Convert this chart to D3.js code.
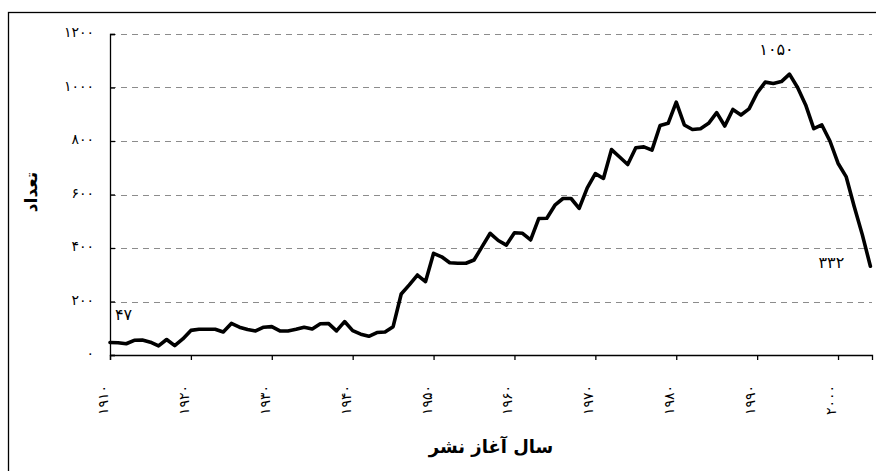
<!DOCTYPE html>
<html><head><meta charset="utf-8">
<script src="https://cdn.jsdelivr.net/npm/d3@7"></script>
<style>
html,body{margin:0;padding:0;background:#fff;}
svg{display:block;}
</style></head>
<body>
<script>
// ---- data ----
const firstYear = 1910;
const counts = [
  47, 46, 42, 55, 56, 48, 34, 58, 35, 60,        // 1910-1919
  92, 96, 96, 96, 86, 118, 104, 95, 90, 104,     // 1920-1929
  106, 90, 90, 96, 104, 97, 117, 118, 90, 125,   // 1930-1939
  91, 78, 70, 84, 86, 106, 228, 262, 299, 274,   // 1940-1949
  380, 367, 345, 343, 343, 355, 405, 455, 428, 411, // 1950-1959
  457, 455, 430, 510, 511, 560, 585, 585, 548, 625, // 1960-1969
  678, 660, 768, 740, 712, 775, 778, 766, 858, 866, // 1970-1979
  945, 860, 843, 846, 866, 906, 856, 918, 897, 920, // 1980-1989
  980, 1020, 1015, 1022, 1050, 1000, 935, 846, 860, 800, // 1990-1999
  717, 667, 555, 450, 332                         // 2000-2004
];
const years = counts.map((_, i) => firstYear + i);
const xTickValues = [1910, 1920, 1930, 1940, 1950, 1960, 1970, 1980, 1990, 2000];
const xTickLabels = ["۱۹۱۰", "۱۹۲۰", "۱۹۳۰", "۱۹۴۰", "۱۹۵۰", "۱۹۶۰", "۱۹۷۰", "۱۹۸۰", "۱۹۹۰", "۲۰۰۰"];
const yTickValues = [0, 200, 400, 600, 800, 1000, 1200];
const yTickLabels = ["۰", "۲۰۰", "۴۰۰", "۶۰۰", "۸۰۰", "۱۰۰۰", "۱۲۰۰"];
const xTitle = "سال آغاز نشر";
const yTitle = "تعداد";

const toFa = n => String(n).replace(/\d/g, d => "۰۱۲۳۴۵۶۷۸۹"[+d]);

// ---- layout ----
const W = 876, H = 471;
const m = {left: 110, right: 4, top: 34, bottom: 116};
const svg = d3.select("body").append("svg").attr("width", W).attr("height", H);
const FONT = "'DejaVu Sans', sans-serif";

// outer border
svg.append("rect").attr("x", 8.5).attr("y", 12.5).attr("width", W).attr("height", H)
  .attr("fill", "none").attr("stroke", "#000").attr("stroke-width", 1.3);

const x = d3.scaleLinear().domain([1910, 2004.2]).range([m.left, W - m.right]);
const y = d3.scaleLinear().domain([0, 1200]).range([H - m.bottom, m.top]);

// gridlines
svg.append("g").selectAll("line").data(yTickValues.filter(v => v > 0)).join("line")
  .attr("x1", m.left).attr("x2", W - m.right)
  .attr("y1", d => Math.round(y(d)) + 0.5).attr("y2", d => Math.round(y(d)) + 0.5)
  .attr("stroke", "#8c8c8c").attr("stroke-width", 1).attr("stroke-dasharray", "6,5");

// y axis
const yAxis = d3.axisRight(y).tickValues(yTickValues).tickSize(5)
  .tickFormat((d, i) => "");
const gy = svg.append("g").attr("transform", `translate(${m.left},0)`).call(yAxis);
gy.select(".domain").attr("stroke", "#000").attr("stroke-width", 1.3);
gy.selectAll(".tick line").attr("stroke", "#000").attr("stroke-width", 1.3);

svg.append("g").selectAll("text").data(yTickValues).join("text")
  .attr("x", m.left - 16).attr("y", d => y(d) + 3)
  .attr("text-anchor", "end").attr("font-family", FONT).attr("font-size", 14)
  .attr("letter-spacing", "1.5px")
  .text((d, i) => yTickLabels[i]);

// x axis
const xAxis = d3.axisBottom(x).tickValues(xTickValues).tickSize(5).tickFormat(() => "");
const gx = svg.append("g").attr("transform", `translate(0,${H - m.bottom})`).call(xAxis);
gx.select(".domain").attr("stroke", "#000").attr("stroke-width", 1.3);
gx.selectAll(".tick line").attr("stroke", "#000").attr("stroke-width", 1.3);

svg.append("g").selectAll("text").data(xTickValues).join("text")
  .attr("transform", d => `translate(${x(d) - 2},400) rotate(-90)`)
  .attr("text-anchor", "middle").attr("font-family", FONT).attr("font-size", 14)
  .attr("letter-spacing", "0.5px")
  .text((d, i) => xTickLabels[i]);

// line
const line = d3.line().x((d, i) => x(years[i])).y(d => y(d));
svg.append("path").datum(counts).attr("d", line)
  .attr("fill", "none").attr("stroke", "#000").attr("stroke-width", 3.6)
  .attr("stroke-linejoin", "round").attr("stroke-linecap", "round");

// annotations
const iMax = d3.maxIndex(counts);
const iLast = counts.length - 1;
const ann = svg.append("g").attr("font-family", FONT).attr("font-size", 16);
ann.append("text").attr("x", x(years[0]) + 5).attr("y", y(counts[0]) - 22)
  .text(toFa(counts[0]));
ann.append("text").attr("x", x(years[iMax]) - 13).attr("y", y(counts[iMax]) - 19)
  .attr("text-anchor", "middle").attr("letter-spacing", "1.5px").text(toFa(counts[iMax]));
ann.append("text").attr("x", x(years[iLast]) - 39).attr("y", y(counts[iLast]) + 2)
  .attr("text-anchor", "middle").text(toFa(counts[iLast]));

// titles
svg.append("text").attr("x", (m.left + W - m.right) / 2).attr("y", 453)
  .attr("text-anchor", "middle").attr("font-family", FONT).attr("font-weight", "bold")
  .attr("font-size", 18).text(xTitle);
svg.append("text").attr("transform", "translate(37,192) rotate(-90)")
  .attr("text-anchor", "middle").attr("font-family", FONT).attr("font-weight", "bold")
  .attr("font-size", 17).text(yTitle);
</script>
</body></html>
